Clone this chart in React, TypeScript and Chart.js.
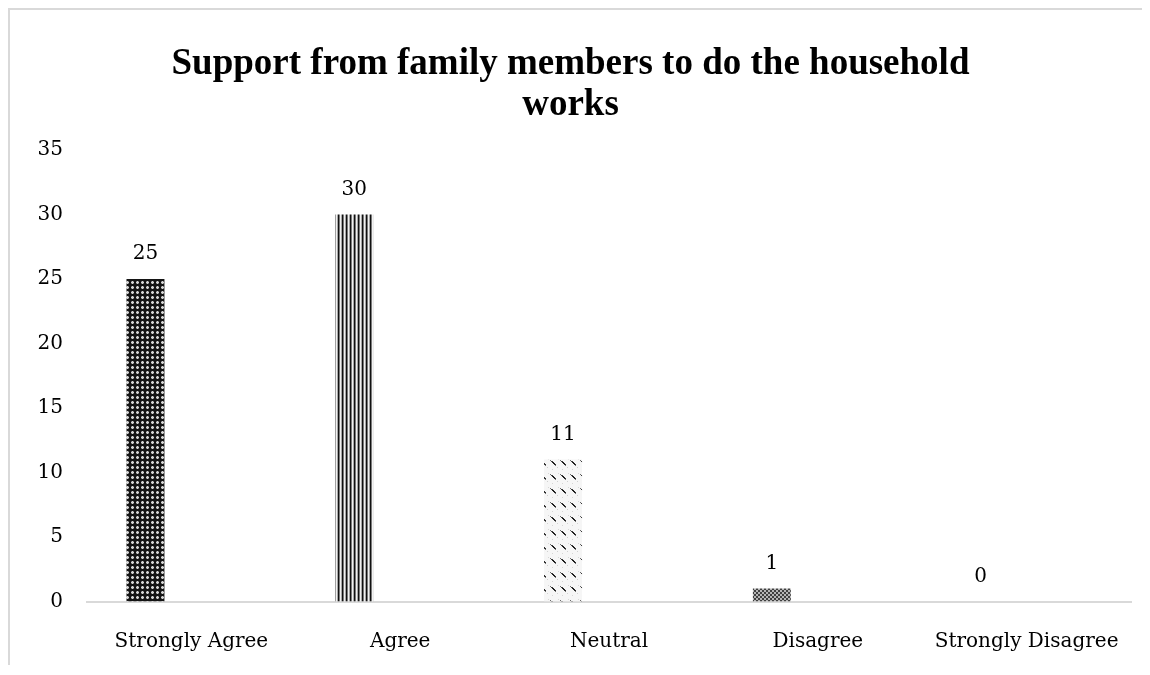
import React, { useEffect, useRef } from "react";
import { Chart, registerables } from "chart.js";

Chart.register(...registerables);

const categories = ["Strongly Agree", "Agree", "Neutral", "Disagree", "Strongly Disagree"];
const responses = [25, 30, 11, 1, 0];
const blankSeries = [null, null, null, null, null];
const titleLines = ["Support from family members to do the household", "works"];
const yMin = 0;
const yMax = 35;
const yStep = 5;

function makePattern(w: number, h: number, draw: (c: CanvasRenderingContext2D) => void): CanvasPattern | string {
  const cv = document.createElement("canvas");
  cv.width = w;
  cv.height = h;
  const c = cv.getContext("2d");
  if (!c) return "#555";
  draw(c);
  const p = c.createPattern(cv, "repeat");
  return p || "#555";
}

function px(c: CanvasRenderingContext2D, x: number, y: number, col: string, w = 1, h = 1) {
  c.fillStyle = col;
  c.fillRect(x, y, w, h);
}

export default function App() {
  const ref = useRef<HTMLCanvasElement | null>(null);

  useEffect(() => {
    document.documentElement.style.overflow = "hidden";
    if (!ref.current) return;

    const dots = makePattern(5, 5, (c) => {
      px(c, 0, 0, "#141414", 5, 5);
      px(c, 1, 1, "#6a6a6a", 3, 3);
      px(c, 2, 1, "#d6d6d6", 1, 3);
      px(c, 1, 2, "#d6d6d6", 3, 1);
    });
    const stripes = makePattern(4, 4, (c) => {
      px(c, 0, 0, "#111111", 1, 4);
      px(c, 1, 0, "#7a7a7a", 1, 4);
      px(c, 2, 0, "#f2f2f2", 1, 4);
      px(c, 3, 0, "#a8a8a8", 1, 4);
    });
    const dashes = makePattern(10, 14, (c) => {
      px(c, 0, 0, "#f6f6f6", 10, 14);
      px(c, 7, 9, "#d0d0d0");
      px(c, 2, 11, "#d6d6d6");
      px(c, 8, 1, "#d6d6d6");
      px(c, 0, 2, "#6a6a6a", 1, 1);
      px(c, 1, 3, "#3a3a3a", 2, 1);
      px(c, 2, 4, "#1e1e1e", 2, 1);
      px(c, 3, 5, "#1e1e1e", 2, 1);
      px(c, 4, 6, "#2a2a2a", 2, 1);
      px(c, 5, 7, "#707070", 1, 1);
    });
    const checker = makePattern(4, 4, (c) => {
      px(c, 0, 0, "#b5b5b5", 4, 4);
      px(c, 0, 0, "#404040", 2, 2);
      px(c, 2, 2, "#404040", 2, 2);
    });

    const barFills = [dots, stripes, dashes, checker, "#777777"];

    const valueLabels = {
      id: "valueLabels",
      afterDatasetsDraw(chart: any) {
        const ctx = chart.ctx;
        const meta = chart.getDatasetMeta(0);
        ctx.save();
        ctx.font = "20px 'DejaVu Serif'";
        ctx.fillStyle = "#000";
        ctx.textAlign = "center";
        ctx.textBaseline = "middle";
        meta.data.forEach((bar: any, i: number) => {
          const v = chart.data.datasets[0].data[i];
          if (v === null || v === undefined) return;
          ctx.fillText(String(v), bar.x, bar.y - 25);
        });
        ctx.restore();
      },
    };

    const chart = new Chart(ref.current, {
      type: "bar",
      data: {
        labels: categories,
        datasets: [
          {
            label: "Responses",
            data: responses,
            backgroundColor: barFills as any,
            borderWidth: 0,
            categoryPercentage: 0.88,
            barPercentage: 0.413,
          },
          {
            label: "",
            data: blankSeries as any,
            backgroundColor: "#ffffff",
            borderWidth: 0,
            categoryPercentage: 0.88,
            barPercentage: 0.413,
          },
        ],
      },
      options: {
        responsive: false,
        animation: false,
        layout: { padding: { left: 0, right: 19, top: 0, bottom: 0 } },
        plugins: {
          legend: { display: false },
          tooltip: { enabled: false },
          title: {
            display: true,
            text: titleLines,
            color: "#000",
            font: { family: "'Liberation Serif'", size: 37, weight: "bold", lineHeight: 1.1 },
            padding: { top: 34, bottom: 24.6 },
          },
        },
        scales: {
          x: {
            grid: { display: false, drawTicks: false },
            border: { display: true, color: "#d9d9d9", width: 2 },
            ticks: {
              color: "#000",
              font: { family: "'DejaVu Serif'", size: 20 },
              padding: 28,
              maxRotation: 0,
              autoSkip: false,
            },
            afterFit(scale: any) {
              scale.height = 63.5;
            },
          },
          y: {
            min: yMin,
            max: yMax,
            grid: { display: false, drawTicks: false },
            border: { display: false },
            ticks: {
              stepSize: yStep,
              color: "#000",
              font: { family: "'DejaVu Serif'", size: 20 },
              padding: 24,
            },
            afterFit(scale: any) {
              scale.width = 77;
            },
          },
        },
      },
      plugins: [valueLabels],
    });

    return () => chart.destroy();
  }, []);

  return (
    <div
      style={{
        width: 1142,
        height: 657,
        borderTop: "2px solid #d9d9d9",
        borderLeft: "2px solid #d9d9d9",
        boxSizing: "border-box",
        overflow: "hidden",
      }}
    >
      <canvas ref={ref} width={1140} height={655} style={{ display: "block" }} />
    </div>
  );
}
